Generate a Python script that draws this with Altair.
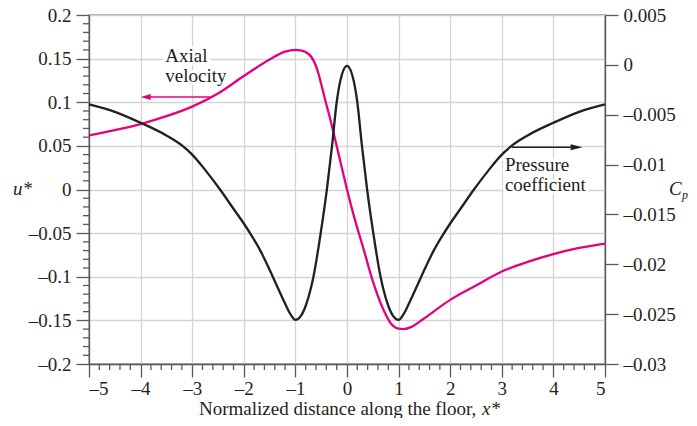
import altair as alt
import pandas as pd

# ---- data ----
x_u = [-5, -4.5, -4, -3.5, -3, -2.5, -2, -1.5, -1.2, -1.0, -0.9, -0.8, -0.72, -0.65, -0.58,
       -0.5, -0.42, -0.33, -0.2, -0.1, 0, 0.15, 0.32, 0.5, 0.7, 0.85, 1.0, 1.1, 1.25, 1.5,
       2, 2.5, 3, 3.5, 4, 4.5, 5]
u_star = [0.062, 0.068, 0.075, 0.084, 0.095, 0.110, 0.130, 0.149, 0.158, 0.160, 0.1595, 0.1575,
          0.154, 0.148, 0.138, 0.121, 0.102, 0.082, 0.050, 0.025, 0.0, -0.034, -0.068,
          -0.105, -0.137, -0.1535, -0.1595, -0.160, -0.1575, -0.1475, -0.1265, -0.110, -0.094,
          -0.083, -0.074, -0.067, -0.062]

x_cp = [-5, -4.5, -4, -3.5, -3.2, -3, -2.75, -2.46, -2.2, -2, -1.84, -1.68, -1.43, -1.23, -1.1,
        -1.0, -0.9, -0.8, -0.7, -0.65, -0.51, -0.39, -0.29, -0.2, -0.1, 0,
        0.1, 0.2, 0.29, 0.39, 0.51, 0.65, 0.7, 0.8, 0.9, 1.0, 1.1, 1.23, 1.43, 1.68, 1.84, 2,
        2.2, 2.46, 2.75, 3, 3.2, 3.5, 4, 4.5, 5]
cp_vals = [-0.00397, -0.00471, -0.00581, -0.00708, -0.00808, -0.00900, -0.01053, -0.01250,
           -0.01443, -0.01591, -0.01720, -0.01863, -0.02134, -0.02361, -0.02497, -0.02558,
           -0.02523, -0.02416, -0.02240, -0.02125, -0.01688, -0.01250, -0.00813, -0.00375,
           -0.00099, -0.00010,
           -0.00099, -0.00375, -0.00813, -0.01250, -0.01688, -0.02125, -0.02240, -0.02416,
           -0.02523, -0.02558, -0.02497, -0.02361, -0.02134, -0.01863, -0.01720, -0.01591,
           -0.01443, -0.01250, -0.01053, -0.00900, -0.00808, -0.00708, -0.00581, -0.00471,
           -0.00397]

x_major = [-5, -4, -3, -2, -1, 0, 1, 2, 3, 4, 5]
x_minor = [round(-5 + 0.2 * i, 1) for i in range(51) if i % 5 != 0]
u_major = [-0.2, -0.15, -0.1, -0.05, 0, 0.05, 0.1, 0.15, 0.2]
u_minor = [round(-0.2 + 0.01 * i, 2) for i in range(41) if i % 5 != 0]
cp_major = [-0.03, -0.025, -0.02, -0.015, -0.01, -0.005, 0, 0.005]

# annotations (data coordinates)
axial_text = ["Axial", "velocity"]
axial_text_x = [-3.52, -3.52]
axial_text_u = [0.1456, 0.123]
axial_arrow_x = [-2.65, -3.9]
axial_arrow_u = [0.106, 0.106]

press_text = ["Pressure", "coefficient"]
press_text_x = [3.06, 3.06]
press_text_cp = [-0.0106, -0.0127]
press_arrow_x = [3.19, 4.45]
press_arrow_cp = [-0.00826, -0.00826]

W, H = 516, 349
MAGENTA = "#e6007e"
BLACK = "#231f20"
AXIS = "#58595b"
GRID = "#d4d4d4"
FONT = "Liberation Serif"
FS = 19

DASH = "\u2013"
label_expr = f"datum.value < 0 ? '{DASH}' + format(-datum.value, '') : format(datum.value, '')"

x_scale = alt.Scale(domain=[-5, 5], nice=False, zero=False)
u_scale = alt.Scale(domain=[-0.2, 0.2], nice=False, zero=False)
cp_scale = alt.Scale(domain=[-0.03, 0.005], nice=False, zero=False)

x_axis = alt.Axis(values=x_major, title=None, tickSize=13, labelPadding=2, grid=True,
                  gridColor=GRID, gridWidth=1.3, domainColor=AXIS, domainWidth=1.3,
                  tickColor=AXIS, tickWidth=1.3, labelFont=FONT, labelFontSize=FS,
                  labelColor=BLACK, labelExpr=label_expr)
u_axis = alt.Axis(values=u_major, title=None, tickSize=13, labelPadding=5, grid=True,
                  gridColor=GRID, gridWidth=1.3, domainColor=AXIS, domainWidth=1.3,
                  tickColor=AXIS, tickWidth=1.3, labelFont=FONT, labelFontSize=FS,
                  labelColor=BLACK, labelExpr=label_expr)
cp_axis = alt.Axis(values=cp_major, orient="right", title=None, tickSize=13, labelPadding=5,
                   grid=False, domainColor=AXIS, domainWidth=1.3, tickColor=AXIS,
                   tickWidth=1.3, labelFont=FONT, labelFontSize=FS, labelColor=BLACK,
                   labelExpr=label_expr)

X = alt.X("x:Q", scale=x_scale, axis=x_axis)
YU = alt.Y("u:Q", scale=u_scale, axis=u_axis)
YC = alt.Y("cp:Q", scale=cp_scale, axis=cp_axis)

df_u = pd.DataFrame({"x": x_u, "u": u_star})
df_cp = pd.DataFrame({"x": x_cp, "cp": cp_vals})

# ---- left (u*) group ----
u_line = alt.Chart(df_u).mark_line(color=MAGENTA, strokeWidth=2.3, interpolate="monotone").encode(
    x=X, y=YU, order="x:Q")

u_minor_ticks = alt.Chart(pd.DataFrame({"u": u_minor})).mark_rule(
    color=AXIS, strokeWidth=1.3).encode(y=YU, x=alt.value(0), x2=alt.value(-6))
x_minor_ticks = alt.Chart(pd.DataFrame({"x": x_minor})).mark_rule(
    color=AXIS, strokeWidth=1.3).encode(x=X, y=alt.value(H), y2=alt.value(H + 6))

df_ax_text = pd.DataFrame({"x": axial_text_x, "u": axial_text_u, "t": axial_text})
axial_halo = alt.Chart(df_ax_text).mark_text(
    font=FONT, fontSize=FS, align="left", baseline="alphabetic", color="white",
    stroke="white", strokeWidth=6).encode(x=X, y=YU, text="t:N")
axial_label = alt.Chart(df_ax_text).mark_text(
    font=FONT, fontSize=FS, align="left", baseline="alphabetic", color=BLACK).encode(
    x=X, y=YU, text="t:N")
axial_shaft = alt.Chart(pd.DataFrame({"x": axial_arrow_x, "u": axial_arrow_u})).mark_line(
    color=MAGENTA, strokeWidth=1.6).encode(x=X, y=YU)
axial_head = alt.Chart(pd.DataFrame({"x": axial_arrow_x[1:], "u": axial_arrow_u[1:]})).mark_point(
    shape="M-1,0L1,-0.6L1,0.6Z", size=100, filled=True, opacity=1, color=MAGENTA,
    strokeWidth=0).encode(x=X, y=YU)

one = alt.Data(values=[{}])
u_title = alt.Chart(one).mark_text(font=FONT, fontSize=FS, fontStyle="italic", align="left",
                                   baseline="alphabetic", color=BLACK, text="u*").encode(
    x=alt.value(-76), y=alt.value(180))
cp_title_c = alt.Chart(one).mark_text(font=FONT, fontSize=FS, fontStyle="italic", align="left",
                                      baseline="alphabetic", color=BLACK, text="C").encode(
    x=alt.value(580), y=alt.value(180))
cp_title_p = alt.Chart(one).mark_text(font=FONT, fontSize=12, fontStyle="italic", align="left",
                                      baseline="alphabetic", color=BLACK, text="p").encode(
    x=alt.value(593), y=alt.value(184))
x_title_a = alt.Chart(one).mark_text(font=FONT, fontSize=FS, align="left", baseline="alphabetic",
                                     color=BLACK, text="Normalized distance along the floor,").encode(
    x=alt.value(110), y=alt.value(400))
x_title_b = alt.Chart(one).mark_text(font=FONT, fontSize=FS, fontStyle="italic", align="left",
                                     baseline="alphabetic", color=BLACK, text="x*").encode(
    x=alt.value(393), y=alt.value(400))

left_group = alt.layer(u_line, u_minor_ticks, x_minor_ticks, axial_shaft, axial_head,
                       axial_halo, axial_label, u_title, cp_title_c, cp_title_p,
                       x_title_a, x_title_b)

# ---- right (Cp) group ----
cp_line = alt.Chart(df_cp).mark_line(color=BLACK, strokeWidth=2.3, interpolate="monotone").encode(
    x=X, y=YC, order="x:Q")
df_pr_text = pd.DataFrame({"x": press_text_x, "cp": press_text_cp, "t": press_text})
press_halo = alt.Chart(df_pr_text).mark_text(
    font=FONT, fontSize=FS, align="left", baseline="alphabetic", color="white",
    stroke="white", strokeWidth=6).encode(x=X, y=YC, text="t:N")
press_label = alt.Chart(df_pr_text).mark_text(
    font=FONT, fontSize=FS, align="left", baseline="alphabetic", color=BLACK).encode(
    x=X, y=YC, text="t:N")
press_shaft = alt.Chart(pd.DataFrame({"x": press_arrow_x, "cp": press_arrow_cp})).mark_line(
    color=BLACK, strokeWidth=1.6).encode(x=X, y=YC)
press_head = alt.Chart(pd.DataFrame({"x": press_arrow_x[1:], "cp": press_arrow_cp[1:]})).mark_point(
    shape="M1,0L-1,-0.5L-1,0.5Z", size=144, filled=True, opacity=1, color=BLACK,
    strokeWidth=0).encode(x=X, y=YC)

right_group = alt.layer(press_halo, press_label, press_shaft, press_head, cp_line)

chart = alt.layer(left_group, right_group).resolve_scale(y="independent").properties(
    width=W, height=H,
    autosize=alt.AutoSizeParams(type="none"),
    padding={"left": 81, "top": 7, "right": 84, "bottom": 54},
    background="white",
).configure_view(stroke=AXIS, strokeWidth=1.3).configure_axis(labelFont=FONT)

chart.save("out.html", embed_options={"renderer": "svg", "actions": False})
